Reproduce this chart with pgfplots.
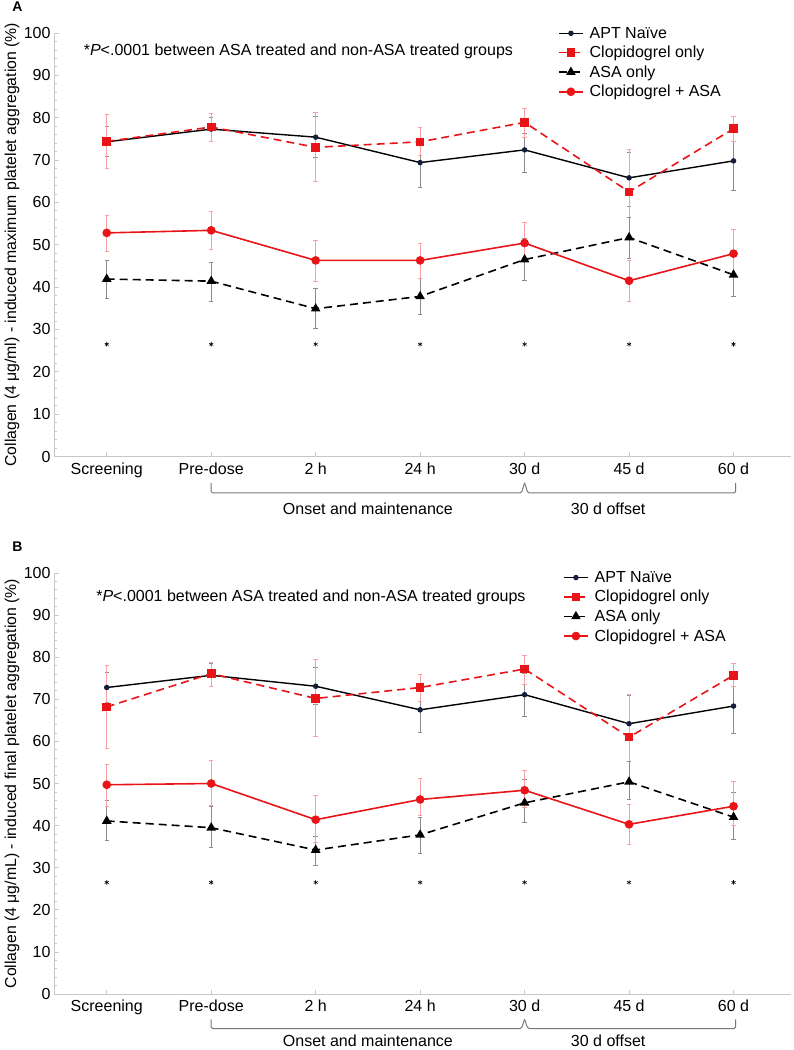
\documentclass[border=0pt]{standalone}
\usepackage{fontspec}
\setmainfont{Liberation Sans}
\usepackage{pgfplots}
\usepackage{pgfplotstable}
\pgfplotsset{compat=1.18}
\definecolor{myred}{RGB}{232,20,24}
\definecolor{navy}{RGB}{20,30,60}
\definecolor{axgray}{RGB}{200,200,200}
\definecolor{brgray}{RGB}{120,120,120}

% Panel A
\pgfplotstableread{
x y ep em
0 74.3 3.7 3.5
1 77.3 2.8 3.0
2 75.4 4.8 4.7
3 69.4 5.6 5.8
4 72.4 3.8 5.3
5 65.8 6.1 6.8
6 69.8 7.1 7.0
}\aApt
\pgfplotstableread{
x y ep em
0 74.4 6.3 6.3
1 77.8 3.2 3.4
2 73.0 8.3 8.0
3 74.3 3.4 3.3
4 78.9 3.3 3.5
5 62.5 10.1 10.5
6 77.4 3.0 3.1
}\aClop
\pgfplotstableread{
x y ep em
0 41.9 4.4 4.6
1 41.4 4.4 4.7
2 34.9 4.9 4.7
3 37.8 4.2 4.2
4 46.5 5.0 4.8
5 51.7 4.8 4.8
6 42.9 5.1 5.2
}\aAsa
\pgfplotstableread{
x y ep em
0 52.8 4.2 4.3
1 53.4 4.4 4.6
2 46.3 4.8 4.9
3 46.3 4.1 4.2
4 50.4 4.8 4.0
5 41.5 4.8 4.8
6 47.9 5.7 5.0
}\aBoth
% Panel B
\pgfplotstableread{
x y ep em
0 72.8 3.7 3.6
1 75.7 2.8 2.6
2 73.1 4.6 4.2
3 67.5 4.5 5.3
4 71.1 5.1 5.2
5 64.2 6.8 8.9
6 68.4 6.6 6.4
}\bApt
\pgfplotstableread{
x y ep em
0 68.2 9.9 9.9
1 76.1 2.7 3.0
2 70.2 9.3 9.1
3 72.8 3.1 3.2
4 77.2 3.3 3.7
5 61.0 10.2 10.4
6 75.7 2.8 2.7
}\bClop
\pgfplotstableread{
x y ep em
0 41.1 4.9 4.6
1 39.5 5.1 4.6
2 34.2 3.3 3.7
3 37.8 4.2 4.3
4 45.4 5.6 4.6
5 50.4 4.9 4.2
6 42.0 5.9 5.2
}\bAsa
\pgfplotstableread{
x y ep em
0 49.7 4.9 5.2
1 50.0 5.5 5.1
2 41.4 5.8 5.4
3 46.2 5.1 3.7
4 48.4 4.7 4.1
5 40.3 4.7 4.8
6 44.6 5.8 4.6
}\bBoth
\pgfplotstableread{
x y
0 26.5
1 26.5
2 26.5
3 26.5
4 26.5
5 26.5
6 26.5
}\stars

\pgfplotsset{
  panel/.style={
    scale only axis, width=736.5pt,
    xmin=-0.5, xmax=6.55, ymin=0, ymax=100,
    axis x line*=bottom, axis y line*=left,
    axis line style={axgray, line width=1pt},
    xtick={0,...,6},
    xticklabels={Screening,Pre-dose,2 h,24 h,30 d,45 d,60 d},
    ytick={0,10,...,100}, minor y tick num=4,
    tick align=inside, major tick length=4pt, minor tick length=2.5pt,
    tick style={axgray, line width=0.8pt},
    /pgf/number format/assume math mode=true,
    tick label style={font=\fontsize{16}{19}\selectfont, black},
    yticklabel style={xshift=-0.5pt},
    xticklabel style={yshift=-2.5pt},
    ylabel style={at={(axis description cs:-0.0577,0.5)}, anchor=center, font=\fontsize{15.8}{18}\selectfont},
    clip=false,
    legend cell align=left,
    legend image code/.code={\draw[mark repeat=2,mark phase=2,##1] plot coordinates {(0cm,0cm) (0.42cm,0cm) (0.84cm,0cm)};},
    legend style={draw=none, fill=none, font=\fontsize{16}{19}\selectfont, inner xsep=0pt, row sep=2.5pt, column sep=4pt, anchor=north west},
  },
  sapt/.style={black, line width=1.4pt, mark=*, mark size=2pt, mark options={solid, fill=navy, draw=navy},
    error bars/.cd, y dir=both, y explicit,
    error bar style={black!45, line width=0.7pt, solid},
    error mark options={rotate=90, mark size=2.2pt, black!45, line width=0.7pt}},
  sclop/.style={myred, line width=1.6pt, dash pattern=on 8pt off 5pt, mark=square*, mark size=3.5pt, mark options={solid, fill=myred},
    error bars/.cd, y dir=both, y explicit,
    error bar style={myred!40, line width=0.7pt, solid},
    error mark options={rotate=90, mark size=2.2pt, myred!40, line width=0.7pt}},
  sasa/.style={black, line width=1.6pt, dash pattern=on 8pt off 5pt, mark=triangle*, mark size=4pt, mark options={solid, fill=black},
    error bars/.cd, y dir=both, y explicit,
    error bar style={black!45, line width=0.7pt, solid},
    error mark options={rotate=90, mark size=2.2pt, black!45, line width=0.7pt}},
  sboth/.style={myred, line width=1.6pt, mark=*, mark size=3.5pt, mark options={solid, fill=myred},
    error bars/.cd, y dir=both, y explicit,
    error bar style={myred!40, line width=0.7pt, solid},
    error mark options={rotate=90, mark size=2.2pt, myred!40, line width=0.7pt}},
}

\begin{document}
\begin{tikzpicture}
\useasboundingbox (0,0) rectangle (793pt,1050pt);
\node[font=\bfseries\fontsize{14}{16}\selectfont] at (17.5pt,1043pt) {A};
\node[font=\bfseries\fontsize{14}{16}\selectfont] at (17.5pt,503pt) {B};

\begin{axis}[panel, height=423.5pt, at={(54.5pt,593.5pt)}, anchor=south west,
  ylabel={Collagen (4 μg/ml) - induced maximum platelet aggregation (\%)},
  legend style={at={(axis description cs:0.6836,1.024)}}]
\addplot[sapt] table[x=x,y=y,y error plus=ep,y error minus=em] {\aApt};
\addlegendentry{APT Naïve}
\addplot[sclop] table[x=x,y=y,y error plus=ep,y error minus=em] {\aClop};
\addlegendentry{Clopidogrel only}
\addplot[sasa] table[x=x,y=y,y error plus=ep,y error minus=em] {\aAsa};
\addlegendentry{ASA only}
\addplot[sboth] table[x=x,y=y,y error plus=ep,y error minus=em] {\aBoth};
\addlegendentry{Clopidogrel + ASA}
\addplot[only marks, mark=asterisk, mark size=2.3pt, black, line width=0.6pt, forget plot] table {\stars};
\node[anchor=west, font=\fontsize{16}{19}\selectfont] at (axis description cs:0.035,0.957) {*\textit{P}<.0001 between ASA treated and non-ASA treated groups};
\draw[brgray, line width=1pt, rounded corners=1.5pt] (axis cs:1,-6.2) -- (axis cs:1,-8.6) -- (axis cs:3.97,-8.6) -- (axis cs:4,-6.2);
\draw[brgray, line width=1pt, rounded corners=1.5pt] (axis cs:4,-6.2) -- (axis cs:4.03,-8.6) -- (axis cs:6.02,-8.6) -- (axis cs:6.02,-6.2);
\node[inner sep=0pt, font=\fontsize{16}{19}\selectfont] at (axis cs:2.5,-12.4) {Onset and maintenance};
\node[inner sep=0pt, font=\fontsize{16}{19}\selectfont] at (axis cs:4.8,-12.4) {30 d offset};
\end{axis}

\begin{axis}[panel, height=421pt, at={(54.5pt,56pt)}, anchor=south west,
  ylabel={Collagen (4 μg/mL) - induced final platelet aggregation (\%)},
  legend style={at={(axis description cs:0.6904,1.014)}}]
\addplot[sapt] table[x=x,y=y,y error plus=ep,y error minus=em] {\bApt};
\addlegendentry{APT Naïve}
\addplot[sclop] table[x=x,y=y,y error plus=ep,y error minus=em] {\bClop};
\addlegendentry{Clopidogrel only}
\addplot[sasa] table[x=x,y=y,y error plus=ep,y error minus=em] {\bAsa};
\addlegendentry{ASA only}
\addplot[sboth] table[x=x,y=y,y error plus=ep,y error minus=em] {\bBoth};
\addlegendentry{Clopidogrel + ASA}
\addplot[only marks, mark=asterisk, mark size=2.3pt, black, line width=0.6pt, forget plot] table {\stars};
\node[anchor=west, font=\fontsize{16}{19}\selectfont] at (axis description cs:0.052,0.943) {*\textit{P}<.0001 between ASA treated and non-ASA treated groups};
\draw[brgray, line width=1pt, rounded corners=1.5pt] (axis cs:1,-6.0) -- (axis cs:1,-8.2) -- (axis cs:3.97,-8.2) -- (axis cs:4,-6.0);
\draw[brgray, line width=1pt, rounded corners=1.5pt] (axis cs:4,-6.0) -- (axis cs:4.03,-8.2) -- (axis cs:6.02,-8.2) -- (axis cs:6.02,-6.0);
\node[inner sep=0pt, font=\fontsize{16}{19}\selectfont] at (axis cs:2.5,-11.1) {Onset and maintenance};
\node[inner sep=0pt, font=\fontsize{16}{19}\selectfont] at (axis cs:4.8,-11.1) {30 d offset};
\end{axis}
\end{tikzpicture}
\end{document}
